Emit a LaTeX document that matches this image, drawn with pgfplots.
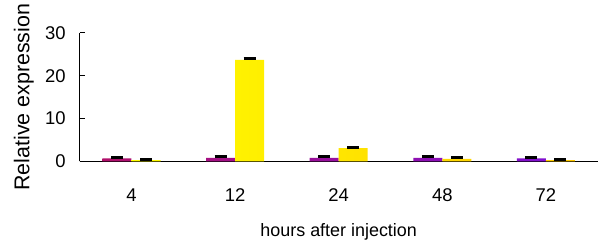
\documentclass[border=0pt]{standalone}
\usepackage{pgfplots}
\pgfplotsset{compat=1.18}
\usepackage{fontspec}
\setmainfont{Liberation Sans}
\definecolor{magL}{HTML}{B0106A}
\definecolor{purR}{HTML}{8010D0}
\definecolor{yelL}{HTML}{FFFF00}
\definecolor{yelR}{HTML}{FFC800}
\begin{document}
\begin{tikzpicture}
\begin{axis}[
  scale only axis,
  width=520bp, height=129bp,
  xmin=-0.5, xmax=4.5,
  ymin=0, ymax=30,
  axis lines*=left,
  axis line style={line width=1.3bp, black},
  every tick/.style={line width=1.1bp, black},
  ytick={0,10,20,30},
  major tick length=5bp,
  tick align=inside,
  xtick={0,1,2,3,4},
  xticklabels={4,12,24,48,72},
  x tick style={draw=none},
  extra x ticks={0.5,1.5,2.5,3.5,4.5},
  extra x tick labels={},
  extra x tick style={major tick length=6bp, tick style={draw=black, line width=1.1bp}},
  /pgf/number format/assume math mode=true,
  tick label style={font=\fontsize{18.5bp}{20bp}\selectfont},
  xticklabel style={anchor=center, yshift=-29bp},
  yticklabel style={anchor=east, inner sep=0pt, xshift=-14bp},
  every axis y label/.style={at={(axis description cs:-0.1077,0.5)}, rotate=90, anchor=center, inner sep=0pt, font=\fontsize{21.5bp}{22bp}\selectfont},
  every axis x label/.style={at={(axis description cs:0.5,0)}, anchor=center, yshift=-71bp, font=\fontsize{18bp}{20bp}\selectfont},
  ylabel={Relative expression},
  xlabel={hours after injection},
  ybar=0pt,
  bar width=0.28,
  clip=false,
]
\coordinate (o) at (rel axis cs:0,0);
\addplot[draw=none, left color=magL, right color=purR,
  error bars/.cd, y dir=plus, y explicit,
  error bar style={line width=1.5bp, black},
  error mark options={rotate=90, mark size=6bp, line width=3bp, black}]
  coordinates {(0,0.7) +- (0,0.3) (1,0.8) +- (0,0.4) (2,0.8) +- (0,0.4) (3,0.8) +- (0,0.4) (4,0.7) +- (0,0.3)};
\addplot[draw=none, left color=yelL, right color=yelR,
  error bars/.cd, y dir=plus, y explicit,
  error bar style={line width=1.5bp, black},
  error mark options={rotate=90, mark size=6bp, line width=3bp, black}]
  coordinates {(0,0.3) +- (0,0.2) (1,23.7) +- (0,0.3) (2,3.1) +- (0,0.2) (3,0.6) +- (0,0.3) (4,0.3) +- (0,0.2)};
\end{axis}
\path ([xshift=-80bp,yshift=-83bp]o) rectangle ++(601bp,245bp);
\end{tikzpicture}
\end{document}
